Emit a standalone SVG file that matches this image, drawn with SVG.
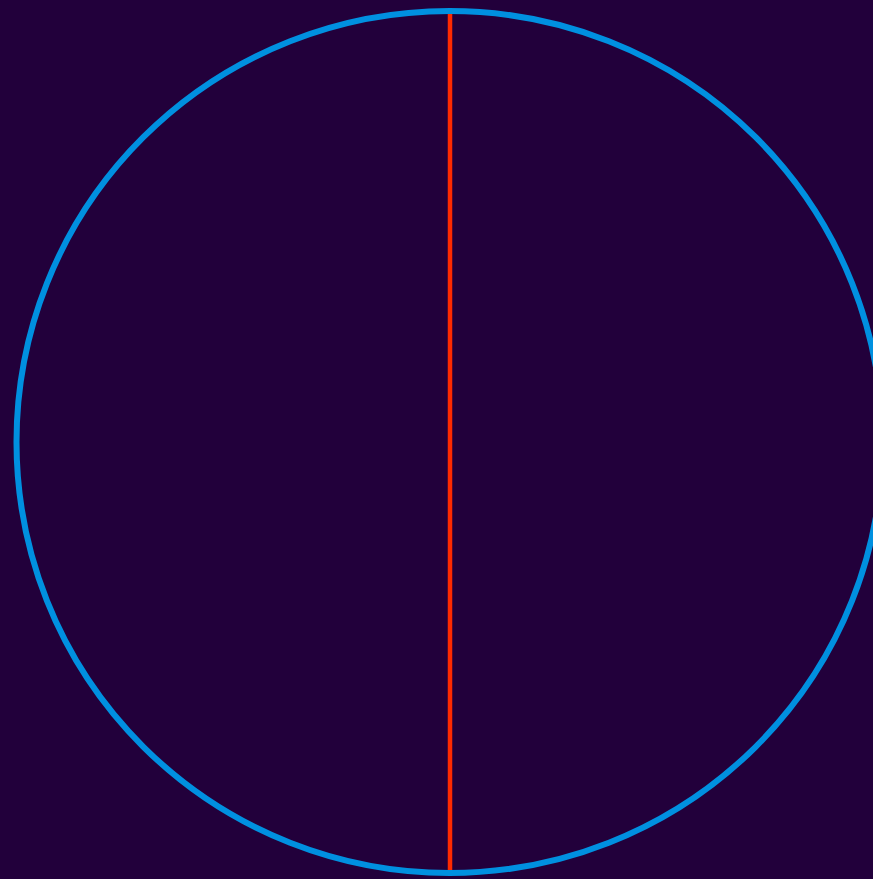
<svg xmlns="http://www.w3.org/2000/svg" width="873" height="879" viewBox="0 0 873 879">
<style>
.ring{fill:none;stroke:#0090e0;stroke-width:6}
.axis{stroke:#ff2a00;stroke-width:4.5}
</style>
<rect width="873" height="879" fill="#22003b"/>
<g id="connectors">
<line class="axis" x1="450" y1="11" x2="450" y2="875"/>
</g>
<g id="circle">
<ellipse class="ring" cx="449.5" cy="442" rx="433" ry="431"/>
</g>
</svg>
